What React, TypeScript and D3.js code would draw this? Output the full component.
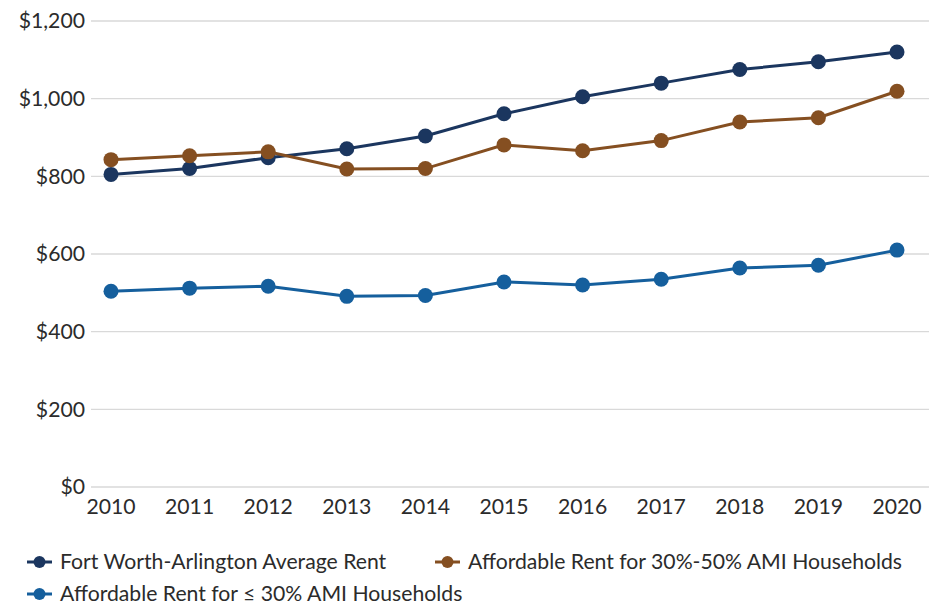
import * as d3 from "d3";

const years = ["2010", "2011", "2012", "2013", "2014", "2015", "2016", "2017", "2018", "2019", "2020"];
const averageRent = [805, 820, 848, 871, 904, 961, 1005, 1040, 1075, 1095, 1120];
const rent30to50 = [843, 853, 863, 819, 820, 881, 866, 892, 940, 951, 1019];
const rentUnder30 = [504, 512, 517, 491, 493, 528, 520, 535, 564, 571, 610];
const yTicks = [0, 200, 400, 600, 800, 1000, 1200];

const series = [
  { name: "Fort Worth-Arlington Average Rent", values: averageRent, color: "#1b365f" },
  { name: "Affordable Rent for 30%-50% AMI Households", values: rent30to50, color: "#854f21" },
  { name: "Affordable Rent for \u2264 30% AMI Households", values: rentUnder30, color: "#155f9d" },
];

const W = 938;
const H = 606;
const FONT = "Lato, 'Open Sans', sans-serif";
const FS = 21.2;

export default function App() {
  const x = d3.scalePoint().domain(years).range([111, 897]);
  const y = d3.scaleLinear().domain([0, 1200]).range([487, 21]);
  const line = d3
    .line<number>()
    .x((_, i) => x(years[i])!)
    .y((d) => y(d));
  const fmt = (v: number) => "$" + d3.format(",")(v);

  const legendPos = [
    { x: 27, y: 562 },
    { x: 435, y: 562 },
    { x: 27, y: 594 },
  ];

  return (
    <svg
      width={W}
      height={H}
      style={{ position: "absolute", left: 0, top: 0, background: "#fff" }}
      fontFamily={FONT}
    >
      {yTicks.map((t) => (
        <g key={t}>
          <line x1={91} x2={929} y1={y(t)} y2={y(t)} stroke="#d9d9d9" strokeWidth={1.3} />
          <text x={85} y={y(t)} dy="0.35em" textAnchor="end" fontSize={FS} fill="#2b2b2b">
            {fmt(t)}
          </text>
        </g>
      ))}
      {years.map((yr) => (
        <text key={yr} x={x(yr)} y={514} textAnchor="middle" fontSize={FS} fill="#2b2b2b">
          {yr}
        </text>
      ))}
      {series.map((s) => (
        <g key={s.name}>
          <path d={line(s.values) ?? ""} fill="none" stroke={s.color} strokeWidth={3} />
          {s.values.map((v, i) => (
            <circle key={i} cx={x(years[i])} cy={y(v)} r={7.5} fill={s.color} />
          ))}
        </g>
      ))}
      {series.map((s, i) => (
        <g key={s.name} transform={`translate(${legendPos[i].x},${legendPos[i].y})`}>
          <line x1={0} x2={25} y1={0} y2={0} stroke={s.color} strokeWidth={3} />
          <circle cx={12.5} cy={0} r={6} fill={s.color} />
          <text x={33} y={0} dy="0.35em" fontSize={FS} fill="#2b2b2b">
            {s.name}
          </text>
        </g>
      ))}
    </svg>
  );
}
